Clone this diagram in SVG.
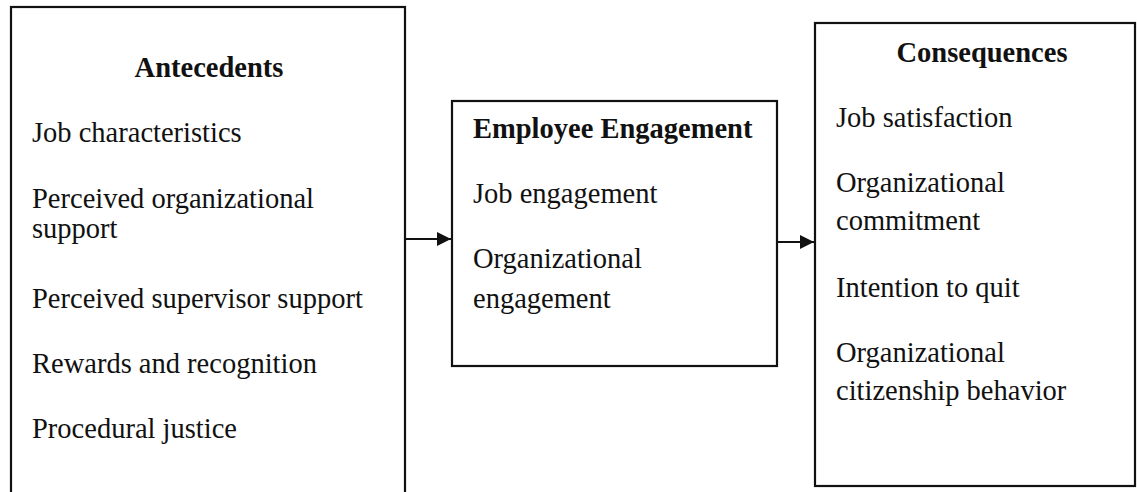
<svg xmlns="http://www.w3.org/2000/svg" width="1137" height="492" viewBox="0 0 1137 492">
<style>
.box{fill:#fff;stroke:#111;stroke-width:2.2}
.t{font-family:"Liberation Serif","Times New Roman",serif;font-size:28.5px;fill:#111}
.b{font-weight:bold}
.c{stroke:#111;stroke-width:2;fill:none}
</style>
<defs>
<marker id="ah" viewBox="0 0 10 10" refX="10" refY="5" markerWidth="14" markerHeight="14" markerUnits="userSpaceOnUse" orient="auto">
<path d="M0,0 L10,5 L0,10 z" fill="#111"/>
</marker>
</defs>
<rect width="1137" height="492" fill="#fff"/>
<g id="antecedents">
<rect class="box" x="11" y="7" width="394" height="500"/>
<text class="t b" x="209" y="77" text-anchor="middle">Antecedents</text>
<text class="t" x="32" y="142">Job characteristics</text>
<text class="t" x="32" y="208">Perceived organizational</text>
<text class="t" x="32" y="238">support</text>
<text class="t" x="32" y="308">Perceived supervisor support</text>
<text class="t" x="32" y="373">Rewards and recognition</text>
<text class="t" x="32" y="438">Procedural justice</text>
</g>
<g id="engagement">
<rect class="box" x="452" y="101" width="325" height="265"/>
<text class="t b" x="473" y="138">Employee Engagement</text>
<text class="t" x="473" y="203">Job engagement</text>
<text class="t" x="473" y="268">Organizational</text>
<text class="t" x="473" y="308">engagement</text>
</g>
<g id="consequences">
<rect class="box" x="815" y="23" width="320" height="463"/>
<text class="t b" x="982" y="62" text-anchor="middle">Consequences</text>
<text class="t" x="836" y="127">Job satisfaction</text>
<text class="t" x="836" y="192">Organizational</text>
<text class="t" x="836" y="230">commitment</text>
<text class="t" x="836" y="297">Intention to quit</text>
<text class="t" x="836" y="362">Organizational</text>
<text class="t" x="836" y="400">citizenship behavior</text>
</g>
<g id="connectors">
<line class="c" x1="405" y1="239" x2="451" y2="239" marker-end="url(#ah)"/>
<line class="c" x1="777" y1="242" x2="814" y2="242" marker-end="url(#ah)"/>
</g>
</svg>
